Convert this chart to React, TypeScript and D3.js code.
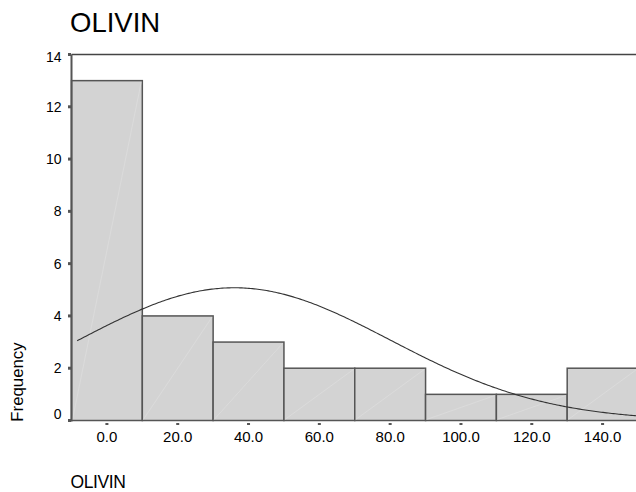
import React from "react";
import * as d3 from "d3";

const binStarts = [-10, 10, 30, 50, 70, 90, 110, 130];
const binWidth = 20;
const counts = [13, 4, 3, 2, 2, 1, 1, 2];
const xTicks = [0, 20, 40, 60, 80, 100, 120, 140];
const yTicks = [0, 2, 4, 6, 8, 10, 12, 14];
const curveMean = 36;
const curveSd = 44;
const curveN = 28;
const curveStart = -8.4;
const curveEnd = 150;

const W = 636;
const H = 492;
const FONT = "Liberation Sans, Arial, sans-serif";

export default function App() {
  const x = d3.scaleLinear().domain([-10, 150]).range([71.5, 638]);
  const y = d3.scaleLinear().domain([0, 14]).range([420.5, 54.5]);

  const density = (v: number) =>
    (curveN * binWidth) / (curveSd * Math.sqrt(2 * Math.PI)) *
    Math.exp(-0.5 * ((v - curveMean) / curveSd) ** 2);
  const pts = d3.range(curveStart, curveEnd + 0.01, 0.5).map((v) => [v, density(v)] as [number, number]);
  const line = d3.line<[number, number]>().x((d) => x(d[0])).y((d) => y(d[1]));

  return (
    <svg width={W} height={H} style={{ position: "absolute", left: 0, top: 0, background: "#fff" }}>
      <text x={70} y={32.3} fontFamily={FONT} fontSize={27.5} fill="#000">OLIVIN</text>
      {/* top frame line */}
      <line x1={x(-10)} x2={W} y1={y(14)} y2={y(14)} stroke="#444" strokeWidth={1.5} />
      {/* bars */}
      {binStarts.map((b, i) => (
        <g key={i}>
          <rect x={x(b)} y={y(counts[i])} width={x(b + binWidth) - x(b)} height={y(0) - y(counts[i])}
            fill="#d3d3d3" stroke="#555" strokeWidth={1.5} />
          <line x1={x(b) + 1} y1={y(0) - 1} x2={x(b + binWidth) - 1} y2={y(counts[i]) + 1}
            stroke="#e2e2e2" strokeWidth={0.5} />
        </g>
      ))}
      {/* y axis */}
      <line x1={x(-10)} x2={x(-10)} y1={y(14)} y2={y(0) + 1} stroke="#555" strokeWidth={2} />
      {yTicks.map((t) => (
        <g key={t}>
          <rect x={x(-10) - 3.5} y={y(t) - 1.5} width={3} height={3} fill="#555" />
          <text x={61.5} y={y(t) + (t === 0 ? -2 : t === 14 ? 7 : 5)} textAnchor="end"
            fontFamily={FONT} fontSize={14} fill="#000">{t}</text>
        </g>
      ))}
      {/* x ticks */}
      {xTicks.map((t) => (
        <g key={t}>
          <rect x={x(t) - 1.5} y={y(0) + 2.5} width={3} height={2} fill="#555" />
          <text x={x(t)} y={441.5} textAnchor="middle" fontFamily={FONT} fontSize={15} fill="#000">
            {t.toFixed(1)}
          </text>
        </g>
      ))}
      {/* normal curve */}
      <path d={line(pts) || ""} fill="none" stroke="#333" strokeWidth={1.1} />
      {/* axis titles */}
      <text transform={`translate(22.5,${382}) rotate(-90)`} textAnchor="middle" fontFamily={FONT}
        fontSize={16.8} fill="#000">Frequency</text>
      <text x={70.5} y={488.3} fontFamily={FONT} fontSize={17.5} letterSpacing={-0.4} fill="#000">OLIVIN</text>
    </svg>
  );
}
